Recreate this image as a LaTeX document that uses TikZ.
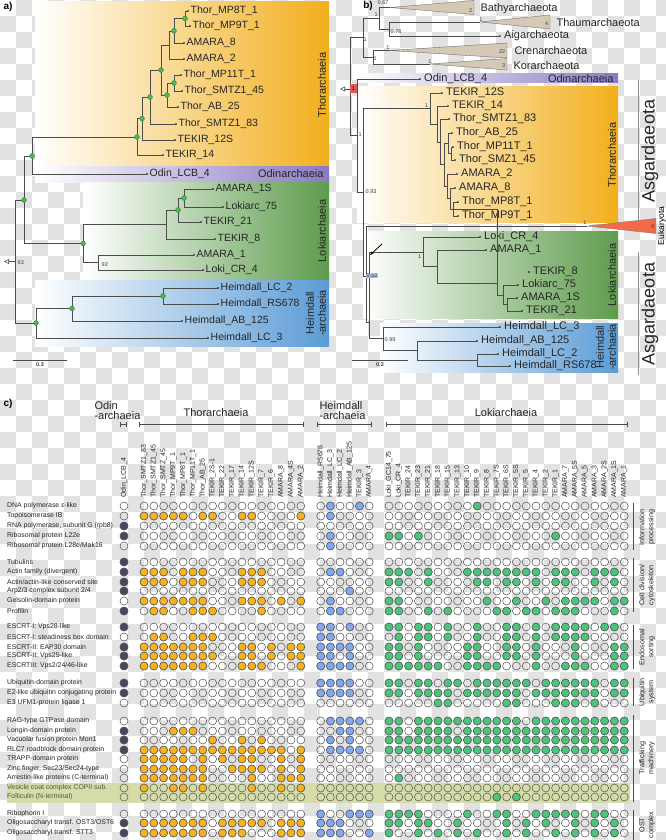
\documentclass[tikz,border=0pt]{standalone}
\usepackage{fontspec}
\setmainfont{Liberation Sans}
\usetikzlibrary{positioning,arrows.meta}

\definecolor{thorcol}{HTML}{F2AF1C}
\definecolor{odincol}{HTML}{8B7AC2}
\definecolor{lokicol}{HTML}{5E9C4C}
\definecolor{heimcol}{HTML}{5B9BD5}
\definecolor{thordot}{HTML}{F7B21E}
\definecolor{heimdot}{HTML}{82A8F0}
\definecolor{lokidot}{HTML}{4CC47C}
\definecolor{odindot}{HTML}{4A4560}
\definecolor{nodegreen}{HTML}{4DB552}
\definecolor{clade}{HTML}{D5C9B5}
\definecolor{eukcol}{HTML}{F26A48}
\definecolor{checker}{HTML}{E2E2E2}
\definecolor{band}{HTML}{D6DCA8}
\definecolor{redbox}{HTML}{E25B5B}
\definecolor{bluebox}{HTML}{A9B9F2}

\newcommand\fsz[1]{\fontsize{#1}{#1}\selectfont}
\newcommand\leaf[4]{%
  \coordinate (#1) at (#2,#3);
  \fill (#1) circle (0.9);
  \node[lf] (#1l) at (#1) {#4};}

\tikzset{
  br/.style={draw=black!70, line width=0.55pt},
  lf/.style={anchor=west, inner sep=0pt, xshift=2.5pt, font=\fsz{10.5}, text=black!85},
  gdot/.style={circle, fill=nodegreen, draw=nodegreen!70!black, line width=0.3pt, inner sep=0pt, minimum size=5pt},
  sup/.style={font=\fsz{5.5}, inner sep=0.5pt, text=black!75},
  cladetri/.style={fill=clade, draw=black!55, line width=0.4pt},
  grp/.style={font=\fsz{11}, text=black!85},
  rowlab/.style={anchor=west, font=\fsz{6.9}, inner sep=0pt, text=black!85},
  collab/.style={anchor=west, rotate=90, font=\fsz{7}, inner sep=0pt, text=black!85},
  dotc/.style={draw=black!65, line width=0.55pt},
  catbar/.style={draw=black!70, line width=0.9pt},
  catlab/.style={rotate=90, align=center, font=\fontsize{7.2}{9}\selectfont, text=black!85},
  grpbar/.style={{Bar[width=5pt]}-{Bar[width=5pt]}, draw=black!70, line width=0.8pt},
}

\begin{document}
\begin{tikzpicture}[x=1pt,y=-1pt]
\useasboundingbox (0,0) rectangle (666,840);
\foreach \i in {0,...,41} \foreach \j in {0,...,52} {
  \ifodd\numexpr\i+\j\relax \fill[checker] (\i*16,\j*16) rectangle ++(16,16); \fi
}

% a)
\shade[left color=white,right color=thorcol] (35,2) rectangle (329,165);
\shade[left color=white,right color=odincol] (35,166) rectangle (329,182);
\shade[left color=white,right color=lokicol] (83,182) rectangle (329,280);
\shade[left color=white,right color=heimcol] (35,280) rectangle (329,346);
\node[font=\bfseries\fsz{10}] (alab) at (8,7) {a)};

\leaf{aMP8T}{188}{11}{Thor\_MP8T\_1}
\leaf{aMP9T}{190}{26}{Thor\_MP9T\_1}
\leaf{aAM8}{184}{43}{AMARA\_8}
\leaf{aAM2}{184}{59}{AMARA\_2}
\leaf{aMP11T}{181}{75}{Thor\_MP11T\_1}
\leaf{aSM45}{182}{91}{Thor\_SMTZ1\_45}
\leaf{aAB25}{178}{107}{Thor\_AB\_25}
\leaf{aSM83}{176}{124}{Thor\_SMTZ1\_83}
\leaf{a12S}{175}{140}{TEKIR\_12S}
\leaf{a14}{163}{155}{TEKIR\_14}
\leaf{aOdin}{147}{174}{Odin\_LCB\_4}
\leaf{aAM1S}{213}{189}{AMARA\_1S}
\leaf{aLk75}{223}{207}{Lokiarc\_75}
\leaf{aT21}{201}{222}{TEKIR\_21}
\leaf{aT8}{215}{239}{TEKIR\_8}
\leaf{aAM1}{194}{255}{AMARA\_1}
\leaf{aCR4}{203}{270}{Loki\_CR\_4}
\leaf{aLC2}{218}{288}{Heimdall\_LC\_2}
\leaf{aRS}{218}{304}{Heimdall\_RS678}
\leaf{aAB125}{182}{321}{Heimdall\_AB\_125}
\leaf{aLC3}{208}{338}{Heimdall\_LC\_3}

\coordinate (aA) at (185,18.5);
\coordinate (aB) at (174,30.8);
\coordinate (aC) at (169,45);
\coordinate (aD) at (174,83);
\coordinate (aE) at (167,95);
\coordinate (aF) at (161,70);
\coordinate (aG) at (150,97);
\coordinate (aH) at (142,118.5);
\coordinate (aI) at (137,137);
\coordinate (aJ) at (32,156);
\coordinate (aK) at (24,200);
\coordinate (aL0) at (83,243.5);
\coordinate (aL1) at (184,198);
\coordinate (aL2) at (178,210);
\coordinate (aL3) at (166,224.5);
\coordinate (aL4) at (98,262.5);
\coordinate (aH1) at (163,296);
\coordinate (aH2) at (72,308.5);
\coordinate (aH3) at (36,323);
\coordinate (aR) at (15,261.5);
\coordinate (aRootTip) at (4,261.5);

\foreach \p/\c in {aA/aMP8T,aA/aMP9T,aB/aA,aB/aAM8,aC/aB,aC/aAM2,aD/aMP11T,aD/aSM45,aE/aD,aE/aAB25,
    aF/aC,aF/aE,aG/aF,aG/aSM83,aH/aG,aH/a12S,aI/aH,aI/a14,aJ/aI,aJ/aOdin,aK/aJ,aK/aL0,
    aL0/aL3,aL0/aL4,aL3/aL2,aL3/aT8,aL2/aL1,aL2/aT21,aL1/aAM1S,aL1/aLk75,aL4/aAM1,aL4/aCR4,
    aR/aK,aR/aH3,aH3/aH2,aH3/aLC3,aH2/aH1,aH2/aAB125,aH1/aLC2,aH1/aRS}
  \draw[br] (\p) |- (\c);
\foreach \n in {aA,aB,aD,aE,aF,aG,aH,aI,aJ,aK,aL0,aL1,aL2,aH1,aH2,aH3}
  \node[gdot] (\n-d) at (\n) {};
\draw[br,-{Triangle[open,length=5pt,width=5pt]}] (aR) -- (aRootTip);
\node[sup, anchor=west] (a93) at (17,263) {93};
\node[sup, anchor=west] (a92) at (101,265) {92};
\coordinate (aS1) at (13,360);
\coordinate (aS2) at (67,360);
\draw[br] (aS1) -- (aS2) node[midway, below=2pt, sup, font=\bfseries\fsz{5.5}] (aSl) {0.3};

\node[grp, rotate=90] (aThorL) at (322,85) {Thorarchaeia};
\node[grp, anchor=east] (aOdinL) at (327,174) {Odinarchaeia};
\node[grp, rotate=90] (aLokiL) at (322,231) {Lokiarchaeia};
\node[grp, rotate=90, align=center, font=\fontsize{11}{12}\selectfont] (aHeimL) at (316,313) {Heimdall\\-archaeia};

% b)
\shade[left color=white,right color=odincol] (357,74) rectangle (618,83);
\shade[left color=white,right color=thorcol] (357,87) rectangle (618,222);
\shade[left color=white,right color=lokicol] (363,231) rectangle (618,318);
\shade[left color=white,right color=heimcol] (380,323) rectangle (618,372);
\node[font=\bfseries\fsz{10}] (blab) at (368,6) {b)};

\begin{scope}[lf/.append style={font=\fsz{11}, xshift=1.5pt}]
\leaf{bAig}{500}{36}{Aigarchaeota}
\leaf{bOdin}{420}{79}{Odin\_LCB\_4}
\leaf{b12S}{442}{93}{TEKIR\_12S}
\leaf{b14}{448}{106}{TEKIR\_14}
\leaf{bSM83}{449}{119}{Thor\_SMTZ1\_83}
\leaf{bAB25}{452}{133}{Thor\_AB\_25}
\leaf{bMP11T}{453}{147}{Thor\_MP11T\_1}
\leaf{bSM45}{455}{160}{Thor\_SMZ1\_45}
\leaf{bAM2}{457}{174}{AMARA\_2}
\leaf{bAM8}{455}{188}{AMARA\_8}
\leaf{bMP8T}{458}{202}{Thor\_MP8T\_1}
\leaf{bMP9T}{458}{216}{Thor\_MP9T\_1}
\leaf{bCR4}{480}{237}{Loki\_CR\_4}
\leaf{bAM1}{486}{250}{AMARA\_1}
\leaf{bT8}{529}{272}{TEKIR\_8}
\leaf{bLk75}{518}{285}{Lokiarc\_75}
\leaf{bAM1S}{517}{298}{AMARA\_1S}
\leaf{bT21}{522}{311}{TEKIR\_21}
\leaf{bLC3}{500}{327}{Heimdall\_LC\_3}
\leaf{bAB125}{477}{341}{Heimdall\_AB\_125}
\leaf{bLC2}{498}{354}{Heimdall\_LC\_2}
\leaf{bRS}{510}{366}{Heimdall\_RS678}
\end{scope}

\coordinate (bBathy) at (390,7.5);
\coordinate (bThaum) at (480,22);
\coordinate (bCren) at (390,50.5);
\coordinate (bKor) at (430,64);
\coordinate (bEuk) at (587,226);
\filldraw[cladetri] (bBathy) -- (474,0.5) -- (474,14.5) -- cycle;
\filldraw[cladetri] (bThaum) -- (550,15) -- (550,29) -- cycle;
\filldraw[cladetri] (bCren) -- (507,43) -- (507,58) -- cycle;
\filldraw[cladetri] (bKor) -- (507,58.5) -- (507,70) -- cycle;
\filldraw[fill=eukcol, draw=black!50, line width=0.4pt] (bEuk) -- (656,218.5) -- (656,233.5) -- cycle;
\node[sup, anchor=east] (bN2) at (473,11) {2};
\node[sup, anchor=east] (bN4) at (549,24) {4};
\node[sup, anchor=east] (bN22) at (506,52) {22};
\node[sup, anchor=east] (bN3) at (506,66) {3};
\node[sup, anchor=east] (bN8) at (655,227) {8};
\node[grp, anchor=west] (bBathyL) at (477,9) {Bathyarchaeota};
\node[grp, anchor=west] (bThaumL) at (553,23) {Thaumarchaeota};
\node[grp, anchor=west] (bCrenL) at (511,51) {Crenarchaeota};
\node[grp, anchor=west] (bKorL) at (510,66) {Korarchaeota};
\node[rotate=90, font=\fsz{8.5}] (bEukL) at (662,226) {Eukaryota};

\coordinate (bR) at (350,89);
\coordinate (bRootTip) at (340,89);
\coordinate (bP1) at (363,37.7);
\coordinate (bP2) at (379,18.5);
\coordinate (bP3) at (389,29);
\coordinate (bP4) at (373,57);
\coordinate (bQ) at (357,135);
\coordinate (bRR) at (363,192);
\coordinate (bS) at (366,276);
\coordinate (bU) at (369,322);
\coordinate (bLA) at (423,252);
\coordinate (bLB) at (437,266.5);
\coordinate (bLC) at (497,283);
\coordinate (bLD) at (503,295);
\coordinate (bLE) at (507,304.5);
\coordinate (bH3) at (383,338.5);
\coordinate (bH2) at (417,350.5);
\coordinate (bH1) at (477,360);
\coordinate (bT1) at (430,108.5);
\coordinate (bT2) at (437,124);
\coordinate (bT3) at (440,142);
\coordinate (bT4) at (444,164.5);
\coordinate (bT5) at (448,143);
\coordinate (bT5b) at (451,153.5);
\coordinate (bT6) at (447,186);
\coordinate (bT7) at (450,198.5);
\coordinate (bT8) at (453,209);

\foreach \p/\c in {bR/bP1,bR/bQ,bP1/bP2,bP1/bP4,bP2/bBathy,bP2/bP3,bP3/bThaum,bP3/bAig,bP4/bCren,bP4/bKor,
    bQ/bOdin,bQ/bRR,bRR/bT1,bRR/bS,bS/bEuk,bS/bU,bU/bLA,bU/bH3,
    bLA/bCR4,bLA/bLB,bLB/bAM1,bLB/bLC,bLC/bT8,bLC/bLD,bLD/bLk75,bLD/bLE,bLE/bAM1S,bLE/bT21,
    bH3/bLC3,bH3/bH2,bH2/bAB125,bH2/bH1,bH1/bLC2,bH1/bRS,
    bT1/b12S,bT1/bT2,bT2/b14,bT2/bT3,bT3/bSM83,bT3/bT4,bT4/bT5,bT4/bT6,bT5/bAB25,bT5/bT5b,
    bT5b/bMP11T,bT5b/bSM45,bT6/bAM2,bT6/bT7,bT7/bAM8,bT7/bT8,bT8/bMP8T,bT8/bMP9T}
  \draw[br] (\p) |- (\c);
\draw[br,-{Triangle[open,length=5pt,width=5pt]}] (bR) -- (bRootTip);
\node[sup, fill=redbox, minimum height=9pt, minimum width=7pt, text=black] (bRootL) at (353.5,89) {1};

\node[sup, anchor=west] (bs1) at (377,3) {0.67};
\node[sup, anchor=west] (bs2) at (374,15) {1};
\node[sup, anchor=west] (bs3) at (363,40) {1};
\node[sup, anchor=west] (bs4) at (390,32) {0.78};
\node[sup, anchor=south] (bs5) at (481,22) {1};
\node[sup, anchor=south] (bs6) at (388,50) {1};
\node[sup, anchor=west] (bs7) at (373,59) {1};
\node[sup, anchor=south] (bs8) at (430,64) {1};
\node[sup, anchor=west] (bs9) at (358,135) {1};
\node[sup, anchor=west] (bs10) at (365,192) {0.93};
\node[sup, anchor=west, fill=bluebox] (bs11) at (366,276) {0.52};
\node[sup, anchor=south east] (bs12) at (422,259) {1};
\node[sup, anchor=south east] (bs13) at (587,225) {1};
\node[sup, anchor=west] (bs14) at (384,340) {0.99};
\node[sup, anchor=south east] (bs15) at (429,108) {1};

\coordinate (bArrA) at (382,244);
\coordinate (bArrB) at (370,255);
\draw[-{Stealth[length=4pt]}, line width=0.8pt] (bArrA) -- (bArrB);
\coordinate (bS1) at (352,360);
\coordinate (bS2) at (408,360);
\draw[br] (bS1) -- (bS2) node[midway, below=2pt, sup, font=\bfseries\fsz{5.5}] (bSl) {0.2};

\node[grp, anchor=east] (bOdinL) at (617,79) {Odinarchaeia};
\node[grp, rotate=90] (bThorL) at (612,155) {Thorarchaeia};
\node[grp, rotate=90] (bLokiL) at (612,275) {Lokiarchaeia};
\node[grp, rotate=90, align=center, font=\fontsize{11}{12}\selectfont] (bHeimL) at (606,347) {Heimdall\\-archaeia};
\coordinate (bAs1a) at (638,80);
\coordinate (bAs1b) at (638,222);
\coordinate (bAs2a) at (638,252);
\coordinate (bAs2b) at (638,375);
\draw[black!45, line width=0.8pt] (bAs1a) -- (bAs1b);
\draw[black!45, line width=0.8pt] (bAs2a) -- (bAs2b);
\node[rotate=90, font=\fsz{18}, text=black!85] (bAsg1) at (650,151) {Asgardaeota};
\node[rotate=90, font=\fsz{18}, text=black!85] (bAsg2) at (650,314) {Asgardaeota};

% c)
\node[font=\bfseries\fsz{10}] (clab) at (8,404) {c)};
\node[grp, align=left, anchor=north west, font=\fontsize{11}{9.5}\selectfont] (cOdinH) at (91,398) {Odin\\-archaeia};
\node[grp] (cThorH) at (216,413) {Thorarchaeia};
\node[grp, align=left, anchor=north west, font=\fontsize{11}{9.5}\selectfont] (cHeimH) at (316,398) {Heimdall\\-archaeia};
\node[grp] (cLokiH) at (506,413) {Lokiarchaeia};
\coordinate (cOb1) at (120,424); \coordinate (cOb2) at (127,424);
\coordinate (cTb1) at (139,424); \coordinate (cTb2) at (304,424);
\coordinate (cHb1) at (317,424); \coordinate (cHb2) at (372,424);
\coordinate (cLb1) at (386,424); \coordinate (cLb2) at (628,424);
\draw[grpbar] (cOb1) -- (cOb2);
\draw[grpbar] (cTb1) -- (cTb2);
\draw[grpbar] (cHb1) -- (cHb2);
\draw[grpbar] (cLb1) -- (cLb2);

\node[collab] (cO) at (124,498) {Odin\_LCB\_4};
\foreach \c/\t in {1/Thor\_SMTZ1\_83,2/Thor\_SMTZ1\_45,3/Thor\_SMTZ\_45,4/Thor\_MP9T\_1,5/Thor\_MP8T\_1,
    6/Thor\_MP11T\_1,7/Thor\_AB\_25,8/TEKIR\_2S-1,9/TEKIR\_22,10/TEKIR\_17,11/TEKIR\_14,12/TEKIR\_12S,
    13/TEKIR\_7,14/TEKIR\_6,15/AMARA\_8,16/AMARA\_4S,17/AMARA\_2}
  \node[collab] (cT\c) at ({144+9.8*(\c-1)},498) {\t};
\foreach \c/\t in {1/Heimdall\_RS678,2/Heimdall\_LC\_3,3/Heimdall\_LC\_2,4/Heimdall\_AB\_125,5/TEKIR\_3,6/AMARA\_4}
  \node[collab] (cH\c) at ({320.7+9.7*(\c-1)},498) {\t};
\foreach \c/\t in {1/Loki\_GC14\_75,2/Loki\_CR\_4,3/TEKIR\_24,4/TEKIR\_23,5/TEKIR\_21,6/TEKIR\_18,7/TEKIR\_15,
    8/TEKIR\_13,9/TEKIR\_10,10/TEKIR\_9,11/TEKIR\_8,12/TEKIR\_7S,13/TEKIR\_6S,14/TEKIR\_5S,15/TEKIR\_5,
    16/TEKIR\_4,17/TEKIR\_2,18/TEKIR\_1,19/AMARA\_7,20/AMARA\_5S,21/AMARA\_5,22/AMARA\_3,23/AMARA\_2S,
    24/AMARA\_1S,25/AMARA\_1}
  \node[collab] (cL\c) at ({389+9.8*(\c-1)},498) {\t};

\fill[band] (7,783) rectangle (630,803);

\foreach \yy/\t in {506/{DNA polymerase ε-like},516/{Topoisomerase IB},526/{RNA polymerase, subunit G (rpb8)},
    536/{Ribosomal protein L22e},546/{Ribosomal protein L28e/Mak16},562/{Tubulins},572/{Actin family (divergent)},
    582/{Actin/actin-like conserved site},591/{Arp2/3 complex subunit 2/4},601/{Gelsolin-domain protein},
    611/{Profilin},627/{ESCRT-I: Vps28-like},637/{ESCRT-I: steadiness box domain},647/{ESCRT-II: EAP30 domain},
    656/{ESCRT-II: Vps25-like},666/{ESCRTIII: Vps2/24/46-like},683/{Ubiquitin-domain protein},
    693/{E2-like ubiquitin conjugating protein},703/{E3 UFM1-protein ligase 1},721/{RAG-type GTPase domain},
    731/{Longin-domain protein},740/{Vacuolar fusion protein Mon1},750/{RLC7 roadblock domain protein},
    759/{TRAPP-domain protein},769/{Zinc finger, Sec23/Sec24-type},778/{Arrestin-like proteins (C-terminal)},
    814/{Ribophorin I},823/{Oligosaccharyl transf. OST3/OST6},833/{Oligosaccharyl transf. STT3}}
  \node[rowlab] (r\yy) at (7,\yy) {\t};
\node[rowlab, text=black!45!band!70!black] (r788) at (7,788) {Vesicle coat complex COPII sub.};
\node[rowlab, text=black!45!band!70!black] (r797) at (7,797) {Folliculin (N-terminal)};

\foreach \yy/\lO/\lT/\lH/\lL in {
    506/0/{0}/{2,5}/{10},
    516/0/{1,2,3,4,5,7,8,11,12,17}/{2}/{0},
    526/1/{0}/{0}/{0},
    536/1/{0}/{2}/{1,2,4,18},
    546/0/{0}/{2}/{0},
    562/1/{0}/{0}/{0},
    572/1/{1,2,3,5,6,7,11,12,13}/{2,3}/{1,2,3,5,9,10,11,12,13,14,15,16,18,19,20,22,23,24},
    582/1/{1,2,3,5,6,7,11,12,13}/{0}/{1,2,5,10,11,13,14,16,18,19,22,24},
    591/1/{0}/{4}/{0},
    601/0/{1,2,3,4,5,6,7,11,12,13,15,17}/{2}/{1,2,11,14,17,19,20,21,22,24,25},
    611/1/{2,3,6,7,8,13}/{2,3}/{1,2,5,7,12,13,15,16,18,19,20,24},
    627/1/{0}/{1,2,4}/{1,2,4,5,7,10,13,14,16,18,19,20,21,23,24},
    637/0/{2,3,6,7,8}/{1,2}/{2,4,5,7,10,13,14,16,18,19,20,21},
    647/1/{1,2,3,4,5,6,7,11,12,14,16,17}/{1,2,3,4}/{1,2,4,9,10,13,14,16,20,24,25},
    656/1/{1,2,3,4,5,6,7,8,11,12,14,16,17}/{1,2,4}/{1,2,4,9,10,13,14,16,20,24,25},
    666/1/{1,2,3,4,5,6,7,11,12,13,17}/{1,2,3,4}/{1,2,3,4,5,6,9,10,11,12,16,19,20,21,24,25},
    683/1/{0}/{1,2,3,4}/{1,2,4,5,7,8,10,11,12,13,14,15,17,18,19,20,21,22,24,25},
    693/1/{0}/{1,2,3,4}/{1,2,4,5,6,7,9,10,11,12,13,14,16,17,18,19,20,21,22,24,25},
    703/0/{0}/{0}/{6,7,13,14,18,19,20,22},
    721/0/{0}/{2,3,4,5}/{1,2,4,5,6,7,8,9,10,11,12,13,14,16,17,18,19,20,21,22,23,24,25},
    731/1/{4,5,6}/{3,4}/{1,2,4,5,6,7,9,10,11,12,13,14,15,16,17,18,19,20,21,22,23,24,25},
    740/1/{8,11,13}/{2,4}/{1,2,3,4,5,6,7,8,9,10,11,12,13,14,15,16,17,18,19,20,21,22,23,24,25},
    750/1/{1,2,3,4,5,6,7,8,9,10,11,12,13,14,15,17}/{2,3,4,5}/{1,2,3,4,5,6,7,8,9,10,11,12,13,14,15,16,17,18,19,20,21,22,23,24,25},
    759/0/{1,2,3,4,5,7,9,11,12,15,17}/{0}/{0},
    769/0/{1,2,3,4,5,6,7,10,11,12,13,15,17}/{0}/{0},
    778/0/{1,2,3,4,5,6,7,12,15,16,17}/{0}/{2},
    788/0/{1,4,5,7,12,15,17}/{0}/{0},
    797/0/{0}/{0}/{12,14},
    814/0/{0}/{1,4,5,6}/{1,2,3,4,9,12,13,16,17,18,19,20,22,23},
    823/1/{1,2,3,4,5,6,7,9,10,11,12,13,15,16,17}/{1,2,3}/{1,2,4,5,8,13,15,17,20,22,24},
    833/1/{1,2,3,4,5,6,7,9,10,11,15,16,17}/{1,2,3,6}/{1,4,6,8,10,13,15,18,20,22,24}}{
  \draw[dotc] (124,\yy) circle (4);
  \foreach \c in {1,...,17} \draw[dotc] ({144+9.8*(\c-1)},\yy) circle (4);
  \foreach \c in {1,...,6} \draw[dotc] ({320.7+9.7*(\c-1)},\yy) circle (4);
  \foreach \c in {1,...,25} \draw[dotc] ({389+9.8*(\c-1)},\yy) circle (4);
  \ifnum\lO=1 \filldraw[dotc, fill=odindot] (124,\yy) circle (4); \fi
  \foreach \c in \lT {\ifnum\c>0 \filldraw[dotc, fill=thordot] ({144+9.8*(\c-1)},\yy) circle (4); \fi}
  \foreach \c in \lH {\ifnum\c>0 \filldraw[dotc, fill=heimdot] ({320.7+9.7*(\c-1)},\yy) circle (4); \fi}
  \foreach \c in \lL {\ifnum\c>0 \filldraw[dotc, fill=lokidot] ({389+9.8*(\c-1)},\yy) circle (4); \fi}
}

\foreach \a/\b/\m/\t in {503/550/527/{Information\\processing},558/612/585/{Cell division/\\cytoskeleton},
    625/669/647/{Endosomal\\sorting},678/706/692/{Ubiquitin\\system},715/802/758/{Trafficking\\machinery},
    810/840/825/{OST\\complex}}{
  \draw[catbar] (633,\a) -- (633,\b);
  \node[catlab] (cat\m) at (647,\m) {\t};
}
\end{tikzpicture}
\end{document}
